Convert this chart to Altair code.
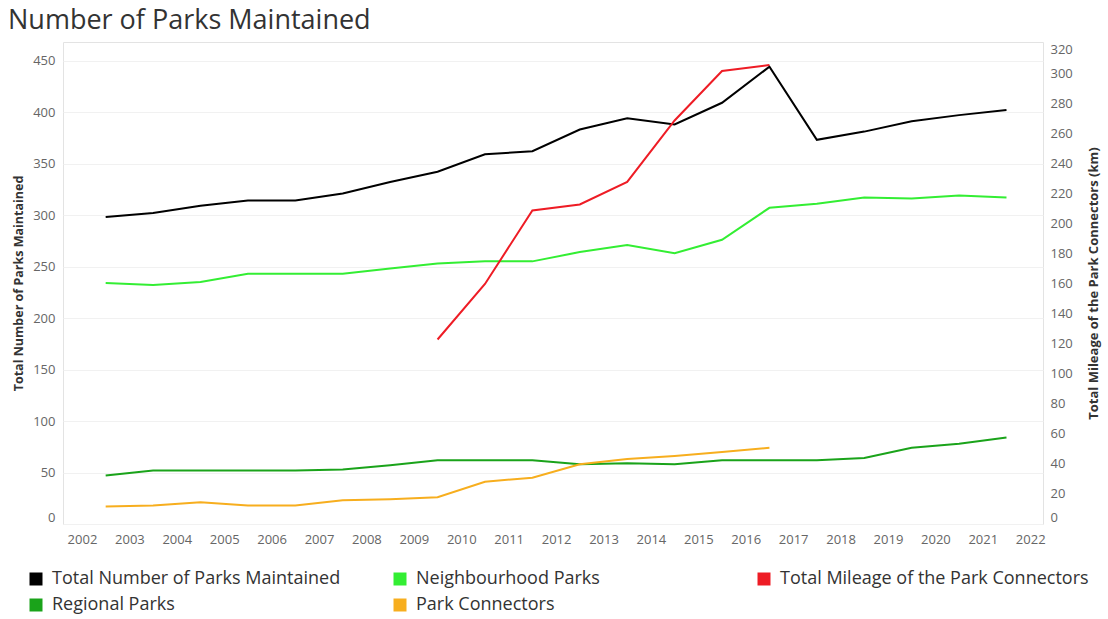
import altair as alt
import pandas as pd

years = list(range(2002, 2022))
total_parks = [298, 302, 309, 314, 314, 321, 332, 342, 359, 362,
               383, 394, 388, 409, 444, 373, 381, 391, 397, 402]
neighbourhood_parks = [234, 232, 235, 243, 243, 243, 248, 253, 255, 255,
                       264, 271, 263, 276, 307, 311, 317, 316, 319, 317]
regional_parks = [47, 52, 52, 52, 52, 53, 57, 62, 62, 62,
                  58, 59, 58, 62, 62, 62, 64, 74, 78, 84]
park_connectors = [17, 18, 21, 18, 18, 23, 24, 26, 41, 45,
                   58, 63, 66, 70, 74, None, None, None, None, None]
connector_mileage = [None, None, None, None, None, None, None,
                     123, 160, 209, 213, 228, 269, 302, 306,
                     None, None, None, None, None]

series_names = ["Total Number of Parks Maintained", "Neighbourhood Parks",
                "Total Mileage of the Park Connectors", "Regional Parks", "Park Connectors"]
series_colors = ["#000000", "#33ee33", "#ee1c25", "#1aa31a", "#f7ae1e"]

left_ticks = list(range(0, 451, 50))
right_ticks = list(range(0, 321, 20))
x_ticks = list(range(2002, 2023))

rows = []
for name, vals, side in [
    (series_names[0], total_parks, "left"),
    (series_names[1], neighbourhood_parks, "left"),
    (series_names[3], regional_parks, "left"),
    (series_names[4], park_connectors, "left"),
    (series_names[2], connector_mileage, "right"),
]:
    for yr, v in zip(years, vals):
        if v is not None:
            rows.append({"year": yr, "series": name, "value": v, "side": side})
df = pd.DataFrame(rows)

FONT = "Open Sans"

x = alt.X(
    "xpos:Q",
    scale=alt.Scale(domain=[2001.6, 2022.27], nice=False, zero=False),
    axis=alt.Axis(values=x_ticks, format="d", title=None, grid=False, ticks=False,
                  domain=False, labelPadding=9, labelFontSize=13, labelColor="#666666",
                  labelFont=FONT),
)

color = alt.Color(
    "series:N",
    scale=alt.Scale(domain=series_names, range=series_colors),
    legend=alt.Legend(title=None, orient="none", legendX=-36, legendY=528, columns=3,
                      direction="horizontal", symbolType="square", symbolSize=36,
                      symbolStrokeWidth=7, labelFontSize=18, labelFont=FONT,
                      labelColor="#333333", labelOffset=7, columnPadding=22,
                      rowPadding=-8, gridAlign="all", labelLimit=400),
)

base = alt.Chart(df).transform_calculate(xpos="datum.year + 0.5")

left = base.transform_filter(alt.datum.side == "left").mark_line(strokeWidth=2).encode(
    x=x,
    y=alt.Y("value:Q",
            scale=alt.Scale(domain=[0, 468], nice=False),
            axis=alt.Axis(title="Total Number of Parks Maintained", values=left_ticks,
                          ticks=False, domain=False, grid=True, gridColor="#f1f1f1",
                          labelFontSize=13, labelColor="#666666", labelFont=FONT,
                          labelPadding=8, labelFlush=5,
                          titleFont=FONT, titleFontSize=12.5, titleFontWeight="bold",
                          titleColor="#333333", titlePadding=7)),
    color=color,
)

right = base.transform_filter(alt.datum.side == "right").mark_line(strokeWidth=2).encode(
    x=x,
    y=alt.Y("value:Q",
            scale=alt.Scale(domain=[0, 321.3], nice=False),
            axis=alt.Axis(orient="right", title="Total Mileage of the Park Connectors (km)",
                          titleAngle=270, titleBaseline="top", values=right_ticks,
                          ticks=False, domain=False,
                          grid=False, labelFontSize=13, labelColor="#666666",
                          labelFont=FONT, labelPadding=7, labelFlush=5,
                          titleFont=FONT, titleFontSize=13, titleFontWeight="bold",
                          titleColor="#333333", titlePadding=15)),
    color=color,
)

chart = alt.layer(left, right).resolve_scale(y="independent").properties(
    width=980,
    height=482,
    title=alt.TitleParams("Number of Parks Maintained", anchor="start", frame="group",
                          dx=-55, fontSize=27, fontWeight="normal", color="#333333",
                          font=FONT, offset=7),
    autosize=alt.AutoSizeParams(type="none"),
    padding={"left": 63, "top": 42, "right": 65, "bottom": 95},
).configure_view(stroke="#e3e3e3")

chart.save("out.html", embed_options={"renderer": "svg", "actions": False})
